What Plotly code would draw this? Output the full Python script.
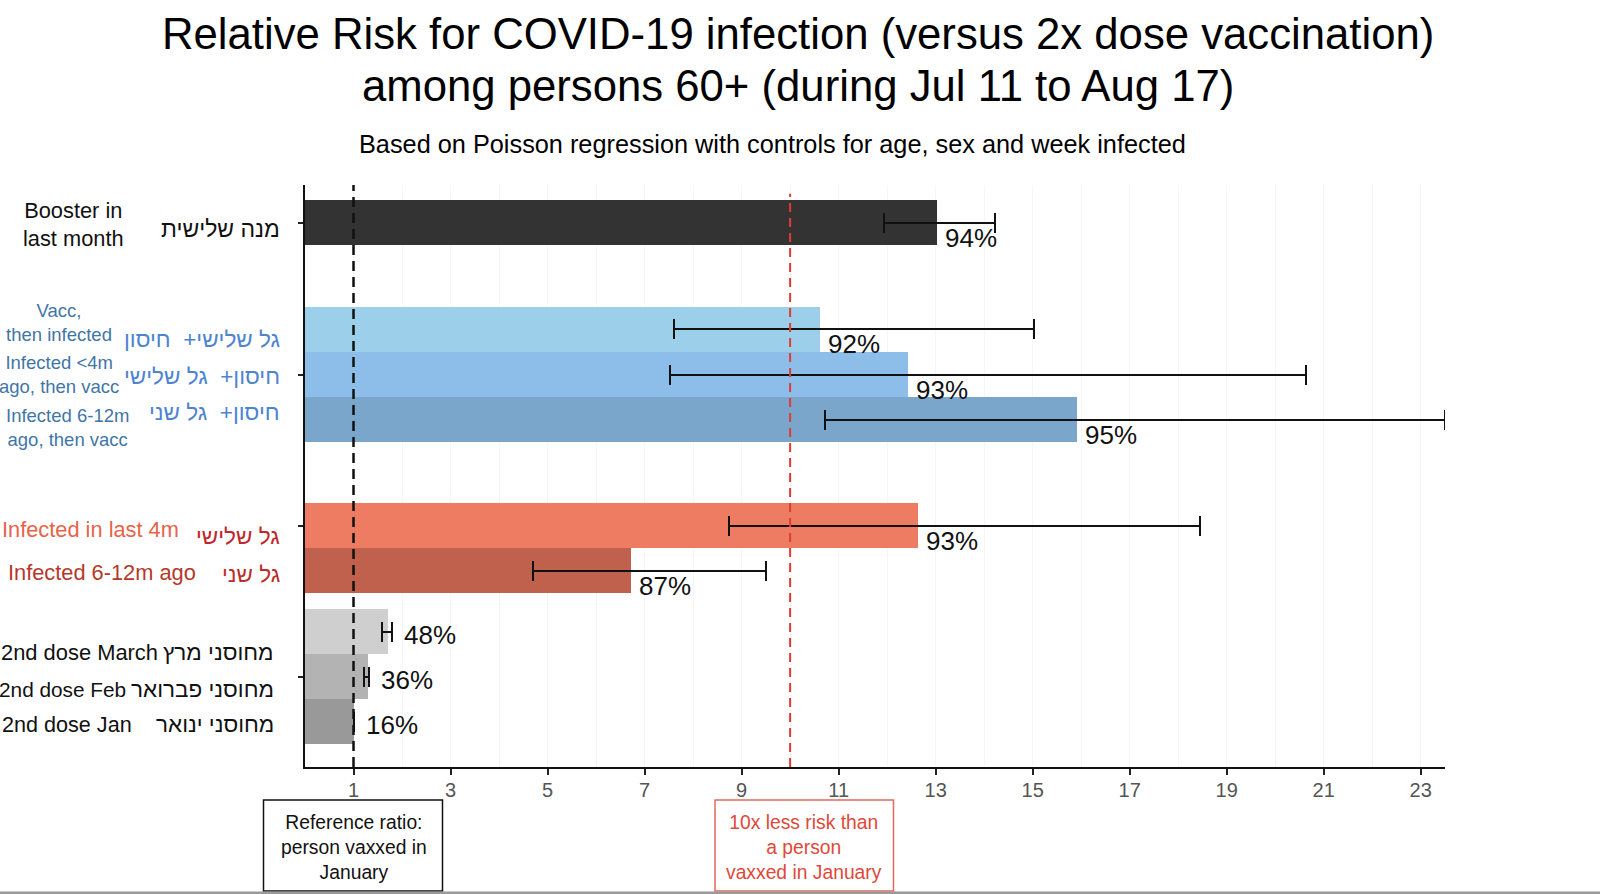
import plotly.graph_objects as go

# ---------------- DATA ----------------
categories = ["Booster in last month", "Vacc, then infected", "Infected <4m ago, then vacc",
              "Infected 6-12m ago, then vacc", "Infected in last 4m", "Infected 6-12m ago",
              "2nd dose March", "2nd dose Feb", "2nd dose Jan"]
english_labels = ["Booster in<br>last month", "Vacc,<br>then infected", "Infected <4m<br>ago, then vacc",
                  "Infected 6-12m<br>ago, then vacc", "Infected in last 4m", "Infected 6-12m ago",
                  "2nd dose March", "2nd dose Feb", "2nd dose Jan"]
hebrew_labels = ["מנה שלישית", "גל שלישי+  חיסון", "חיסון+  גל שלישי", "חיסון+  גל שני",
                 "גל שלישי", "גל שני", "מחוסני מרץ", "מחוסני פברואר", "מחוסני ינואר"]
relative_risk = [13.03, 10.61, 12.42, 15.92, 12.63, 6.71, 1.72, 1.29, 1.00]
ci_low = [11.93, 7.61, 7.53, 10.71, 8.73, 4.71, 1.59, 1.21, 1.00]
ci_high = [14.23, 15.03, 20.63, 23.50, 18.44, 9.51, 1.80, 1.32, 1.00]
effectiveness = ["94%", "92%", "93%", "95%", "93%", "87%", "48%", "36%", "16%"]
x_ticks = [1, 3, 5, 7, 9, 11, 13, 15, 17, 19, 21, 23]
reference_ratio = 1
ten_x_line = 10

title_lines = ["Relative Risk for COVID-19 infection (versus 2x dose vaccination)",
               "among persons 60+ (during Jul 11 to Aug 17)"]
subtitle = "Based on Poisson regression with controls for age, sex and week infected"
ref_box_text = "Reference ratio:<br>person vaxxed in<br>January"
red_box_text = "10x less risk than<br>a person<br>vaxxed in January"

# ---------------- LAYOUT / STYLE ----------------
W, H = 1600, 894
PL, PR, PT, PB = 305, 1445, 185, 767
FONT = "Liberation Sans, Arial, DejaVu Sans, sans-serif"

def px_x(px):
    return (px - PL) / (PR - PL)

def px_y(py):
    return (PB - py) / (PB - PT)

# vertical slot positions (bottom group upwards), unit = one bar height
y_pos = [12.09, 9.72, 8.71, 7.71, 5.36, 4.36, 3.0, 2.0, 1.0]
y_range = [0, 12.93]

bar_colors = ["#333333", "#9BCFEA", "#8DBEEA", "#7AA6CB", "#EE7C62", "#BF614C",
              "#CFCFCF", "#B3B3B3", "#999999"]
heb_colors = ["#111111", "#4D84D1", "#4D84D1", "#4D84D1", "#C0272D", "#B8302A",
              "#111111", "#111111", "#111111"]
eng_colors = ["#111111", "#3F76A6", "#3F76A6", "#3F76A6", "#E8634A", "#B5392B",
              "#111111", "#111111", "#111111"]
heb_right_px = [282, 282, 282, 282, 282, 282, 276, 276, 276]
heb_dy = [6, 10.5, 2, -7, 11, 4, 20.5, 12.5, 2.5]
heb_size = [23, 22.5, 22.5, 22.5, 22.5, 22.5, 22.5, 22.5, 22.5]
eng_x_px = [73.5, 58.5, 59, 67, 181, 198, 160, 128, 134]
eng_anchor = ["center", "center", "center", "center", "right", "right", "right", "right", "right"]
eng_dy = [2, -6.5, -0.5, 7.5, 4, 2, 20.5, 12.5, 2.5]
eng_size = [21.8, 18.5, 18.5, 18.5, 21.8, 21.8, 21.9, 20.8, 21.6]

fig = go.Figure()

fig.add_trace(go.Bar(
    x=relative_risk, y=y_pos, orientation="h", width=1.0,
    marker=dict(color=bar_colors, line=dict(width=0)),
    error_x=dict(type="data", symmetric=False,
                 array=[h - v for h, v in zip(ci_high, relative_risk)],
                 arrayminus=[v - l for v, l in zip(relative_risk, ci_low)],
                 color="#111111", thickness=2, width=10),
    hoverinfo="skip", showlegend=False,
))

annotations = []
# percent labels
for v, hi, y, t in zip(relative_risk, ci_high, y_pos, effectiveness):
    if v > 2:
        ax, xs, ys = v, 6, -15
    else:
        ax, xs, ys = hi, 10, -3
    annotations.append(dict(x=ax, y=y, xref="x", yref="y", text=t, showarrow=False,
                            xanchor="left", yanchor="middle", xshift=xs, yshift=ys,
                            font=dict(family=FONT, size=26, color="#111111")))
# Hebrew labels
for i, y in enumerate(y_pos):
    annotations.append(dict(x=px_x(heb_right_px[i]), y=y, xref="paper", yref="y",
                            text=hebrew_labels[i], showarrow=False, xanchor="right",
                            yanchor="middle", yshift=-heb_dy[i],
                            font=dict(family=FONT, size=heb_size[i], color=heb_colors[i])))
# English labels
for i, y in enumerate(y_pos):
    annotations.append(dict(x=px_x(eng_x_px[i]), y=y, xref="paper", yref="y",
                            text=english_labels[i], showarrow=False, xanchor=eng_anchor[i],
                            yanchor="middle", yshift=-eng_dy[i], align="center",
                            font=dict(family=FONT, size=eng_size[i], color=eng_colors[i])))
# title & subtitle
for line, py in zip(title_lines, [33, 86]):
    annotations.append(dict(x=px_x(798), y=px_y(py), xref="paper", yref="paper", text=line,
                            showarrow=False, xanchor="center", yanchor="middle",
                            font=dict(family=FONT, size=43.7, color="#000000")))
annotations.append(dict(x=px_x(772), y=px_y(144), xref="paper", yref="paper", text=subtitle,
                        showarrow=False, xanchor="center", yanchor="middle",
                        font=dict(family=FONT, size=25.3, color="#000000")))
# box texts
annotations.append(dict(x=reference_ratio, y=px_y(847), xref="x", yref="paper", text=ref_box_text,
                        showarrow=False, xanchor="center", yanchor="middle", align="center",
                        font=dict(family=FONT, size=19.3, color="#111111")))
annotations.append(dict(x=ten_x_line, y=px_y(847), xref="x", yref="paper", text=red_box_text,
                        showarrow=False, xanchor="center", yanchor="middle", align="center",
                        xshift=14, font=dict(family=FONT, size=19.3, color="#E0483A")))

shapes = [
    dict(type="line", xref="x", yref="paper", x0=reference_ratio, x1=reference_ratio, y0=0, y1=1,
         line=dict(color="#111111", width=2.5, dash="10px,6px"), layer="above"),
    dict(type="line", xref="x", yref="paper", x0=ten_x_line, x1=ten_x_line, y0=0, y1=0.985,
         line=dict(color="#E03C31", width=2, dash="9px,6px"), layer="above"),
    dict(type="rect", xref="paper", yref="paper", x0=px_x(263.5), x1=px_x(442.5),
         y0=px_y(891), y1=px_y(800),
         line=dict(color="#111111", width=1.5), fillcolor="rgba(0,0,0,0)"),
    dict(type="rect", xref="paper", yref="paper", x0=px_x(715), x1=px_x(893.5),
         y0=px_y(891), y1=px_y(800),
         line=dict(color="#E36A5E", width=1.5), fillcolor="rgba(0,0,0,0)"),
    dict(type="rect", xref="paper", yref="paper", x0=px_x(0), x1=px_x(1600),
         y0=px_y(894), y1=px_y(891.5), line=dict(width=0), fillcolor="#9A9A9A"),
]

fig.update_layout(
    width=W, height=H,
    margin=dict(l=PL, r=W - PR, t=PT, b=H - PB, pad=0),
    paper_bgcolor="white", plot_bgcolor="white",
    annotations=annotations, shapes=shapes, bargap=0,
    xaxis=dict(range=[0, 23.5], tickvals=x_ticks, ticks="outside", ticklen=6, tickwidth=2,
               tickcolor="#222222", showline=True, linecolor="#111111", linewidth=2,
               showgrid=True, gridcolor="#F6F6F6", gridwidth=1, ticklabelstandoff=-2,
               minor=dict(dtick=2, tick0=0, showgrid=True, gridcolor="#F6F6F6", gridwidth=1),
               zeroline=False, tickfont=dict(family=FONT, size=20, color="#555555"), fixedrange=True),
    yaxis=dict(range=y_range, tickvals=[y_pos[0], y_pos[2], y_pos[4], y_pos[7]],
               ticktext=["", "", "", ""], ticks="outside", ticklen=5, tickwidth=1.5,
               tickcolor="#222222", showline=True, linecolor="#111111", linewidth=2,
               showgrid=False, zeroline=False, fixedrange=True),
)

fig.write_html("out.html", config={"displayModeBar": False},
               post_script="document.body.style.margin='0px';document.body.style.overflow='hidden';")
